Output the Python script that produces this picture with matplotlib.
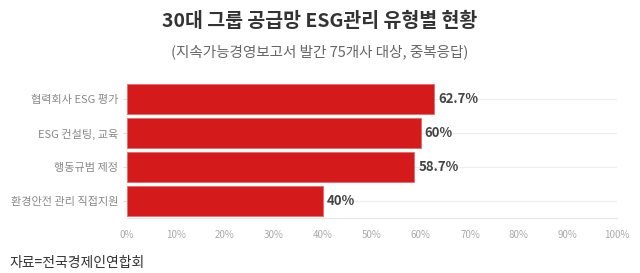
import matplotlib
matplotlib.use('Agg')
import matplotlib.pyplot as plt

plt.rcParams['font.family'] = ['Noto Sans CJK KR', 'DejaVu Sans']

# Data
categories = ['협력회사 ESG 평가', 'ESG 컨설팅, 교육', '행동규범 제정', '환경안전 관리 직접지원']
values = [62.7, 60, 58.7, 40]
value_labels = ['62.7%', '60%', '58.7%', '40%']
xticks = list(range(0, 101, 10))

bar_color = '#d41a1a'
edge_color = '#e86a6a'
text_dark = '#333333'
tick_grey = '#aaaaaa'

fig = plt.figure(figsize=(6.4, 2.73), dpi=100)
fig.set_facecolor('white')
ax = fig.add_axes([0.198, 0.2, 0.766, 0.5])

ypos = list(range(len(categories)))
for y in ypos:
    ax.axhline(y, color='#eeeeee', lw=0.8, zorder=0)
ax.barh(ypos, values, height=0.88, color=bar_color, edgecolor=edge_color, linewidth=0.6, zorder=2)
for y, v, lab in zip(ypos, values, value_labels):
    ax.text(v + 0.8, y, lab, va='center', ha='left', fontsize=9.5, fontweight='bold', color='#444444')

ax.set_ylim(len(categories) - 0.5, -0.5)
ax.set_xlim(0, 100)
ax.set_yticks(ypos)
ax.set_yticklabels(categories, fontsize=8, color='#888888')
ax.set_xticks(xticks)
ax.set_xticklabels([f'{t}%' for t in xticks], fontsize=7, color=tick_grey)
ax.tick_params(axis='y', length=3, color='#dddddd', pad=3)
ax.tick_params(axis='x', length=0, pad=8)
for s in ['top', 'right', 'left']:
    ax.spines[s].set_visible(False)
ax.spines['bottom'].set_color('#e6e6e6')
ax.spines['bottom'].set_linewidth(0.8)

fig.text(0.5, 0.92, '30대 그룹 공급망 ESG관리 유형별 현황', ha='center', va='center',
         fontsize=14, fontweight='bold', color=text_dark)
fig.text(0.5, 0.81, '(지속가능경영보고서 발간 75개사 대상, 중복응답)', ha='center', va='center',
         fontsize=10.5, color='#666666')
fig.text(0.015, 0.035, '자료=전국경제인연합회', ha='left', va='center', fontsize=10, color=text_dark)

fig.savefig('out.png', dpi=100, facecolor='white')
